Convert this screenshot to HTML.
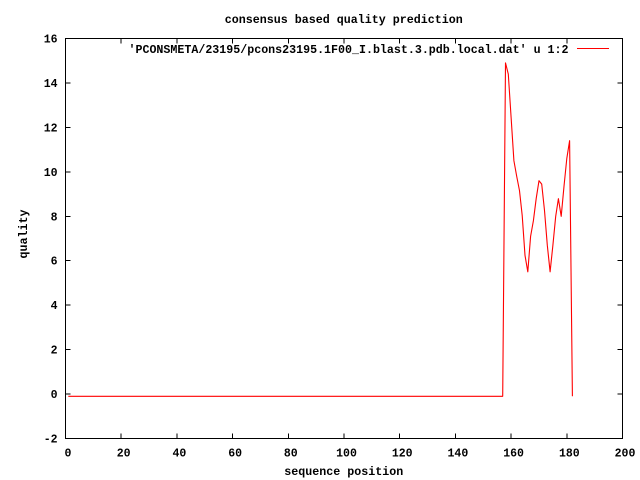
<!DOCTYPE html>
<html>
<head>
<meta charset="utf-8">
<style>
  html, body { margin:0; padding:0; background:#fff; }
  svg { display:block; }
  text { font-family: "Liberation Mono", "DejaVu Sans Mono", monospace; font-weight:bold; font-size:11.5px; fill:#000; }
</style>
</head>
<body>
<svg width="640" height="480" viewBox="0 0 640 480" xmlns="http://www.w3.org/2000/svg">
  <rect x="0" y="0" width="640" height="480" fill="#fff"/>

  <!-- title -->
  <text x="343.8" y="23" text-anchor="middle" textLength="238" lengthAdjust="spacingAndGlyphs">consensus based quality prediction</text>

  <!-- frame -->
  <rect x="65.5" y="38.5" width="557" height="400" fill="none" stroke="#000" stroke-width="1" shape-rendering="crispEdges"/>

  <!-- ticks -->
  <g stroke="#000" stroke-width="1" shape-rendering="crispEdges">
    <path d="M65.5 438.5v-5M121.2 438.5v-5M176.9 438.5v-5M232.6 438.5v-5M288.3 438.5v-5M344 438.5v-5M399.7 438.5v-5M455.4 438.5v-5M511.1 438.5v-5M566.8 438.5v-5M622.5 438.5v-5"/>
    <path d="M65.5 38.5v5M121.2 38.5v5M176.9 38.5v5M232.6 38.5v5M288.3 38.5v5M344 38.5v5M399.7 38.5v5M455.4 38.5v5M511.1 38.5v5M566.8 38.5v5M622.5 38.5v5"/>
    <path d="M65.5 438.5h5M65.5 394.1h5M65.5 349.6h5M65.5 305.2h5M65.5 260.7h5M65.5 216.3h5M65.5 171.8h5M65.5 127.4h5M65.5 82.9h5M65.5 38.5h5"/>
    <path d="M622.5 438.5h-5M622.5 394.1h-5M622.5 349.6h-5M622.5 305.2h-5M622.5 260.7h-5M622.5 216.3h-5M622.5 171.8h-5M622.5 127.4h-5M622.5 82.9h-5M622.5 38.5h-5"/>
  </g>

  <!-- y tick labels -->
  <g text-anchor="end">
    <text x="57.5" y="442.5">-2</text>
    <text x="57.5" y="398.1">0</text>
    <text x="57.5" y="353.6">2</text>
    <text x="57.5" y="309.2">4</text>
    <text x="57.5" y="264.7">6</text>
    <text x="57.5" y="220.3">8</text>
    <text x="57.5" y="175.8">10</text>
    <text x="57.5" y="131.4">12</text>
    <text x="57.5" y="86.9">14</text>
    <text x="57.5" y="42.5">16</text>
  </g>

  <!-- x tick labels -->
  <g text-anchor="middle">
    <text x="68" y="456.5">0</text>
    <text x="123.7" y="456.5">20</text>
    <text x="179.4" y="456.5">40</text>
    <text x="235.1" y="456.5">60</text>
    <text x="290.8" y="456.5">80</text>
    <text x="346.5" y="456.5">100</text>
    <text x="402.2" y="456.5">120</text>
    <text x="457.9" y="456.5">140</text>
    <text x="513.6" y="456.5">160</text>
    <text x="569.3" y="456.5">180</text>
    <text x="625" y="456.5">200</text>
  </g>

  <!-- axis labels -->
  <text x="343.8" y="475" text-anchor="middle" textLength="119" lengthAdjust="spacingAndGlyphs">sequence position</text>
  <text transform="translate(27,234) rotate(-90)" text-anchor="middle" textLength="49" lengthAdjust="spacingAndGlyphs">quality</text>

  <!-- legend -->
  <text x="568.5" y="53" text-anchor="end" textLength="440" lengthAdjust="spacingAndGlyphs">'PCONSMETA/23195/pcons23195.1F00_I.blast.3.pdb.local.dat' u 1:2</text>
  <line x1="577" y1="48.5" x2="609" y2="48.5" stroke="#ff0000" stroke-width="1" shape-rendering="crispEdges"/>

  <!-- data -->
  <polyline fill="none" stroke="#ff0000" stroke-width="1.1" stroke-linejoin="round"
    points="68.3,396.3 502.7,396.3 505.5,62.9 508.3,74.1 511.1,117.4 513.9,160.7 516.7,176.3 519.5,190.7 522.2,215.4 525.0,255.4 527.8,271.8 530.6,236.3 533.4,220.7 536.2,198.5 539.0,180.7 541.7,184.1 544.5,210.5 547.3,245.2 550.1,271.8 552.9,245.2 555.7,216.3 558.4,198.7 561.2,216.3 564.0,186.3 566.8,158.5 569.6,140.7 572.4,396.3"/>
</svg>
</body>
</html>
